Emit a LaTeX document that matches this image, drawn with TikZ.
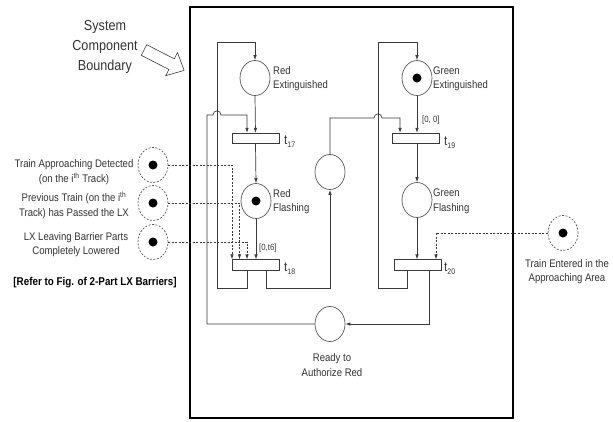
\documentclass[tikz,border=0pt]{standalone}
\usepackage{fontspec}
\setmainfont{Liberation Sans}[FakeStretch=0.87]
\usetikzlibrary{shapes.geometric,arrows.meta}
\definecolor{txt}{HTML}{333333}
\definecolor{ln}{HTML}{3A3A3A}
\tikzset{
  place/.style={draw=ln!85,line width=0.7pt,ellipse,minimum width=30pt,minimum height=35pt,inner sep=0pt},
  dplace/.style={place,dashed,dash pattern=on 2pt off 1.5pt},
  trans/.style={draw=ln,line width=0.7pt,rectangle,minimum width=47pt,minimum height=10.5pt,inner sep=0pt},
  tok/.style={circle,fill=black,minimum size=9pt,inner sep=0pt},
  arc/.style={draw=ln,line width=0.7pt,-{Latex[length=5pt,width=3.5pt]}},
  darc/.style={arc,dash pattern=on 2pt off 1.5pt},
  lbl/.style={text=txt,font=\fontsize{11}{14.5}\selectfont,inner sep=0pt},
  tl/.style={text=txt,font=\fontsize{13.5}{15}\selectfont,inner sep=0pt,anchor=west},
  iv/.style={text=txt,font=\fontsize{9}{11}\selectfont,inner sep=0pt,anchor=west},
}
\newcommand{\tsub}[1]{t\raisebox{-0.45ex}{\fontsize{8}{9}\selectfont #1}}
\begin{document}
\begin{tikzpicture}[x=1pt,y=-1pt]
\useasboundingbox (0,0) rectangle (613,421);
% boundary
\draw[line width=2.6pt,black] (190,7) rectangle (513,418);
% system component boundary
\node[text=txt,font=\fontsize{14.5}{20}\selectfont,align=center,inner sep=0pt] (scb) at (105,47) {System\\Component\\Boundary};
\draw[ln,line width=0.6pt] (146.7,44.7) -- (174.3,58.8) -- (177.5,52.5) -- (184.1,70.4) -- (165.7,75.7) -- (168.9,69.5) -- (141.3,55.3) -- cycle;
% places
\node[place] (RE) at (255,78) {};
\node[place] (RF) at (256,201) {};
\node[tok] at (RF) {};
\node[place] (M) at (330,172) {};
\node[place] (GE) at (417,78) {};
\node[tok] at (GE) {};
\node[place] (GF) at (417,200) {};
\node[place] (R) at (330,324) {};
\node[dplace] (D1) at (153,165) {};
\node[tok] at (D1) {};
\node[dplace] (D2) at (153,203) {};
\node[tok] at (D2) {};
\node[dplace] (D3) at (153,242) {};
\node[tok] at (D3) {};
\node[dplace] (D4) at (563,233) {};
\node[tok] at (D4) {};
% transitions
\node[trans] (t17) at (255.5,138.5) {};
\node[trans] (t18) at (255.5,265) {};
\node[trans] (t19) at (416,138.5) {};
\node[trans] (t20) at (417.5,265) {};
% labels
\node[lbl,anchor=west,align=left] (lRE) at (273,78.5) {Red\\Extinguished};
\node[lbl,anchor=west,align=left] (lRF) at (273,201.5) {Red\\Flashing};
\node[lbl,anchor=west,align=left] (lGE) at (433,79) {Green\\Extinguished};
\node[lbl,anchor=west,align=left] (lGF) at (433,201.5) {Green\\Flashing};
\node[lbl,align=center] (lR) at (332,365) {Ready to\\Authorize Red};
\node[lbl,align=center] (lD4) at (567,271.5) {Train Entered in the\\Approaching Area};
\node[lbl,align=center] (lD1) at (74,172) {Train Approaching Detected\\(on the i\textsuperscript{th} Track)};
\node[lbl,align=center] (lD2) at (74,205.5) {Previous Train (on the i\textsuperscript{th}\\Track) has Passed the LX};
\node[lbl,align=center] (lD3) at (76,244.5) {LX Leaving Barrier Parts\\Completely Lowered};
\node[text=black,font=\bfseries\fontsize{11.3}{12}\selectfont,inner sep=0pt] (ref) at (95,283) {[Refer to Fig. of 2-Part LX Barriers]};
\node[tl] (l17) at (284,142) {\tsub{17}};
\node[tl] (l18) at (284,269) {\tsub{18}};
\node[tl] (l19) at (444,143) {\tsub{19}};
\node[tl] (l20) at (444,269) {\tsub{20}};
\node[iv] (i19) at (422,120) {[0, 0]};
\node[iv] (i18) at (259,248) {[0,t6]};
% arcs
\draw[arc] (RE.south) -- (t17.north);
\draw[arc] (t17.south) -- (RF.north);
\draw[arc] (RF.south) -- (256,0 |- t18.north);
\draw[arc] (247,0 |- t18.south) -- (247,288) -- (217,288) -- (217,42) -- (255,42) -- (RE.north);
\draw[arc] (266,0 |- t18.south) -- (266,288) -- (330,288) -- (M.south);
\draw[arc] (M.north) -- (330,118) -- (374,118) .. controls (374,112.5) and (382,112.5) .. (382,118) -- (400,118) -- (400,0 |- t19.north);
\draw[arc] (GE.south) -- (417,0 |- t19.north);
\draw[arc] (417,0 |- t19.south) -- (GF.north);
\draw[arc] (GF.south) -- (417,0 |- t20.north);
\draw[arc] (407,0 |- t20.south) -- (407,288) -- (378,288) -- (378,42) -- (417,42) -- (GE.north);
\draw[arc] (429,0 |- t20.south) -- (429,324) -- (R.east);
\draw[arc] (R.west) -- (207,324) -- (207,115) -- (213,115) .. controls (213,109.5) and (221,109.5) .. (221,115) -- (247,115) -- (247,0 |- t17.north);
\draw[darc] (D1.east) -| (232,0 |- t18.north);
\draw[darc] (D2.east) -| (239.5,0 |- t18.north);
\draw[darc] (D3.east) -| (247,0 |- t18.north);
\draw[darc] (D4.west) -| (436,0 |- t20.north);
\end{tikzpicture}
\end{document}
